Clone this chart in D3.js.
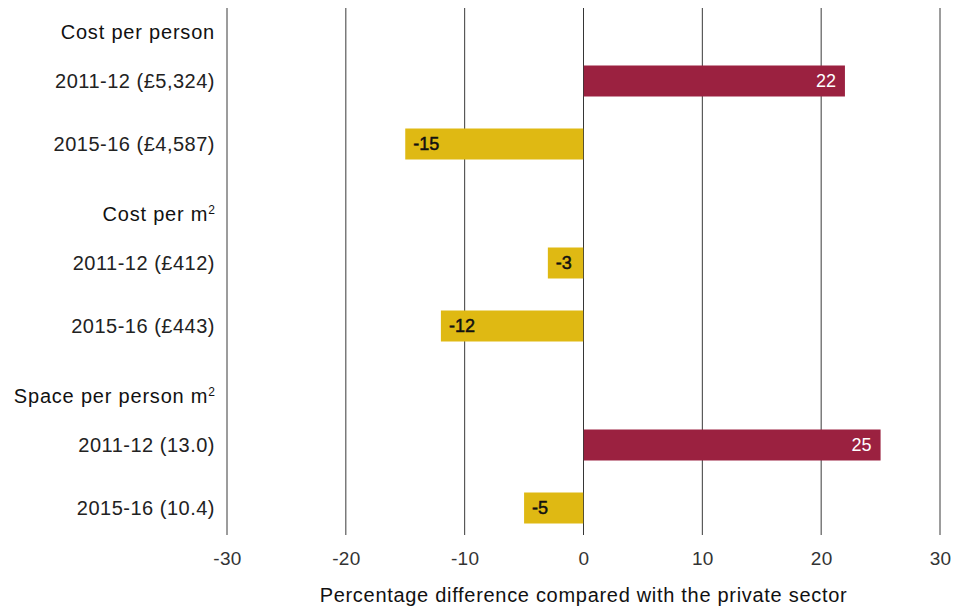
<!DOCTYPE html>
<html>
<head>
<meta charset="utf-8">
<script src="https://cdn.jsdelivr.net/npm/d3@7"></script>
<style>
  html, body { margin: 0; padding: 0; background: #fff; }
  svg { display: block; font-family: "Liberation Sans", Arial, sans-serif; }
</style>
</head>
<body>
<svg id="chart" width="960" height="610"></svg>
<script>
// Measures (group headers) and the two years shown under each
const groups = ["Cost per person", "Cost per m", "Space per person m"];
const groupSup = ["", "2", "2"];
const years = ["2011-12", "2015-16"];
const yearLabels = [
  ["2011-12 (£5,324)", "2015-16 (£4,587)"],
  ["2011-12 (£412)", "2015-16 (£443)"],
  ["2011-12 (13.0)", "2015-16 (10.4)"]
];
// Percentage difference compared with the private sector
const values = [
  [22, -15],
  [-3, -12],
  [25, -5]
];
const tickValues = [-30, -20, -10, 0, 10, 20, 30];
const axisTitle = "Percentage difference compared with the private sector";

const posColor = "#9b2140";
const negColor = "#dfb913";

const svg = d3.select("#chart");

const x = d3.scaleLinear().domain([-30, 30]).range([227, 940]);

// one band per measure, two bar bands inside each
const groupY = d3.scaleBand()
  .domain(d3.range(groups.length))
  .range([8, 8 + 182 * groups.length]);
const barY = d3.scaleBand()
  .domain(years)
  .range([57.5, 57.5 + 94])
  .paddingInner(0.508)
  .paddingOuter(0);

const bars = [];
groups.forEach((g, gi) => {
  years.forEach((yr, yi) => {
    bars.push({ gi, year: yr, label: yearLabels[gi][yi], value: values[gi][yi] });
  });
});
const barTop = d => groupY(d.gi) + barY(d.year);

// vertical gridlines
svg.append("g")
  .selectAll("line")
  .data(tickValues)
  .join("line")
  .attr("x1", d => x(d)).attr("x2", d => x(d))
  .attr("y1", 8).attr("y2", 535)
  .attr("stroke", "#3a3a3a")
  .attr("stroke-width", 1);

// bars
svg.append("g")
  .selectAll("rect")
  .data(bars)
  .join("rect")
  .attr("x", d => Math.min(x(0), x(d.value)))
  .attr("width", d => Math.abs(x(d.value) - x(0)))
  .attr("y", barTop)
  .attr("height", barY.bandwidth())
  .attr("fill", d => d.value >= 0 ? posColor : negColor);

// zero line over the bars
svg.append("line")
  .attr("x1", x(0)).attr("x2", x(0))
  .attr("y1", 8).attr("y2", 535)
  .attr("stroke", "#333")
  .attr("stroke-opacity", 0.6)
  .attr("stroke-width", 1);

// value labels inside the bar ends
svg.append("g")
  .selectAll("text")
  .data(bars)
  .join("text")
  .attr("x", d => d.value >= 0 ? x(d.value) - 9 : x(d.value) + 8)
  .attr("y", d => barTop(d) + barY.bandwidth() / 2)
  .attr("dy", "0.36em")
  .attr("text-anchor", d => d.value >= 0 ? "end" : "start")
  .attr("font-size", 18)
  .attr("fill", d => d.value >= 0 ? "#fff" : "#111")
  .attr("stroke", d => d.value >= 0 ? "none" : "#111")
  .attr("stroke-width", 0.5)
  .text(d => d.value);

// year labels
svg.append("g")
  .selectAll("text")
  .data(bars)
  .join("text")
  .attr("x", 215)
  .attr("y", d => barTop(d) + barY.bandwidth() / 2)
  .attr("dy", "0.36em")
  .attr("text-anchor", "end")
  .attr("font-size", 20)
  .attr("letter-spacing", 0.5)
  .attr("fill", "#222")
  .text(d => d.label);

// group headers
const heads = svg.append("g")
  .selectAll("text")
  .data(groups.map((g, gi) => ({ gi, label: g, sup: groupSup[gi] })))
  .join("text")
  .attr("x", 215)
  .attr("y", d => groupY(d.gi) + 24)
  .attr("dy", "0.36em")
  .attr("text-anchor", "end")
  .attr("font-size", 20)
  .attr("letter-spacing", 0.8)
  .attr("fill", "#111");

heads.append("tspan").text(d => d.label);
heads.filter(d => d.sup)
  .append("tspan")
  .attr("font-size", 12)
  .attr("letter-spacing", 0)
  .attr("dy", "-0.6em")
  .text(d => d.sup);

// x axis tick labels
svg.append("g")
  .attr("transform", "translate(0,535)")
  .call(d3.axisBottom(x).tickValues(tickValues).tickSize(0).tickPadding(17)
    .tickFormat(d => String(d)))
  .call(g => g.select(".domain").remove())
  .call(g => g.selectAll("text")
    .attr("font-size", 19)
    .attr("letter-spacing", 0.3)
    .attr("font-family", "Liberation Sans, Arial, sans-serif")
    .attr("fill", "#333"));

// axis title
svg.append("text")
  .attr("x", x(0))
  .attr("y", 602)
  .attr("text-anchor", "middle")
  .attr("font-size", 20)
  .attr("letter-spacing", 0.7)
  .attr("fill", "#111")
  .text(axisTitle);
</script>
</body>
</html>
